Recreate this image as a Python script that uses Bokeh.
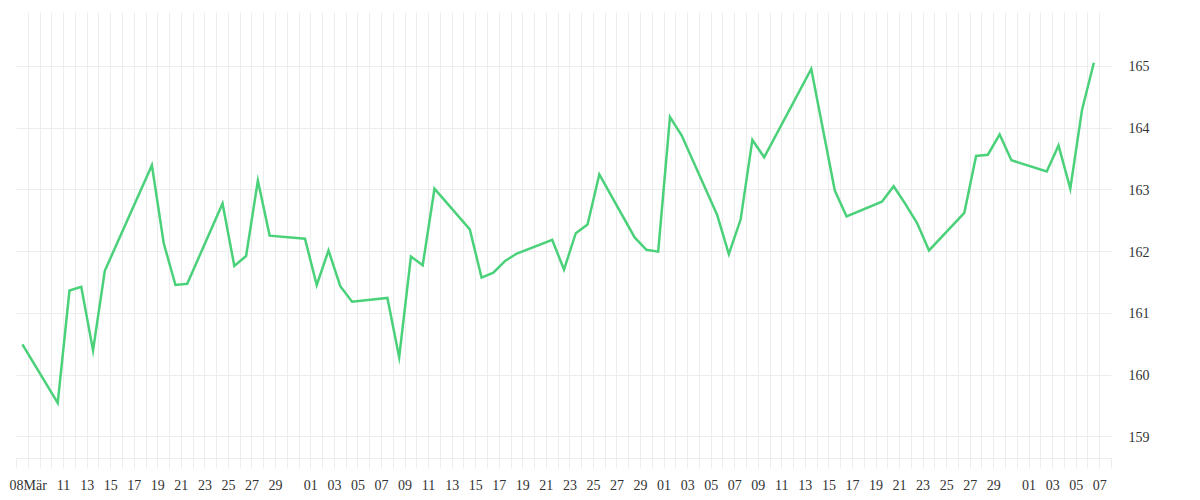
import pandas as pd
from bokeh.plotting import figure
from bokeh.models import FixedTicker, CustomJSTickFormatter, Range1d, ColumnDataSource
from bokeh.embed import file_html
from bokeh.resources import INLINE

# ---- data ----
dates = [
    "2019-03-08", "2019-03-11", "2019-03-12", "2019-03-13", "2019-03-14", "2019-03-15",
    "2019-03-19", "2019-03-20", "2019-03-21", "2019-03-22",
    "2019-03-25", "2019-03-26", "2019-03-27", "2019-03-28", "2019-03-29",
    "2019-04-01", "2019-04-02", "2019-04-03", "2019-04-04", "2019-04-05",
    "2019-04-08", "2019-04-09", "2019-04-10", "2019-04-11", "2019-04-12",
    "2019-04-15", "2019-04-16", "2019-04-17", "2019-04-18", "2019-04-19",
    "2019-04-22", "2019-04-23", "2019-04-24", "2019-04-25", "2019-04-26",
    "2019-04-29", "2019-04-30", "2019-05-01", "2019-05-02", "2019-05-03",
    "2019-05-06", "2019-05-07", "2019-05-08", "2019-05-09", "2019-05-10",
    "2019-05-14", "2019-05-16", "2019-05-17",
    "2019-05-20", "2019-05-21", "2019-05-22", "2019-05-23", "2019-05-24",
    "2019-05-27", "2019-05-28", "2019-05-29", "2019-05-30", "2019-05-31",
    "2019-06-03", "2019-06-04", "2019-06-05", "2019-06-06", "2019-06-07",
]
values = [
    160.50, 159.55, 161.37, 161.43, 160.40, 161.69,
    163.40, 162.14, 161.46, 161.48,
    162.78, 161.77, 161.93, 163.15, 162.26,
    162.21, 161.46, 162.02, 161.44, 161.19,
    161.25, 160.29, 161.92, 161.78, 163.02,
    162.36, 161.58, 161.66, 161.85, 161.97,
    162.19, 161.71, 162.30, 162.44, 163.25,
    162.23, 162.03, 162.00, 164.18, 163.88,
    162.60, 161.96, 162.52, 163.81, 163.53,
    164.96, 162.99, 162.57,
    162.81, 163.06, 162.77, 162.46, 162.02,
    162.63, 163.55, 163.57, 163.90, 163.48,
    163.30, 163.72, 163.02, 164.30, 165.06,
]

tick_dates = (
    ["2019-03-08"] + ["2019-03-%02d" % d for d in range(11, 30, 2)]
    + ["2019-04-%02d" % d for d in range(1, 30, 2)]
    + ["2019-05-%02d" % d for d in range(1, 30, 2)]
    + ["2019-06-%02d" % d for d in range(1, 8, 2)]
)
tick_labels = ["08Mär"] + [d[-2:] for d in tick_dates[1:]]

y_ticks = [159, 160, 161, 162, 163, 164, 165]

# ---- build ----
def ms(ts):
    return ts.value // 10**6

x = pd.to_datetime(dates)
src = ColumnDataSource(dict(x=x, y=values))

half_day = pd.Timedelta(hours=12)
start = pd.Timestamp(dates[0]) - half_day
end = pd.Timestamp(dates[-1]) + pd.Timedelta(days=1) + half_day
grid_ticks = [ms(t) for t in pd.date_range(start, end, freq="D")]
label_ms = [ms(pd.Timestamp(d) + half_day) for d in tick_dates]

p = figure(
    x_axis_type="datetime",
    y_axis_location="right",
    frame_width=1095, frame_height=446,
    x_range=Range1d(ms(start), ms(end)),
    y_range=Range1d(158.65, 165.874),
    output_backend="svg", toolbar_location=None,
    min_border_left=16, min_border_top=12, min_border_right=70, min_border_bottom=30,
)
p.outline_line_color = None
p.background_fill_color = "white"

p.line("x", "y", source=src, line_color="#4ad17a", line_width=2.5, line_join="miter")

grid_color = "#ededed"
xa = p.xaxis[0]
xa.ticker = FixedTicker(ticks=grid_ticks, minor_ticks=[])
xa.formatter = CustomJSTickFormatter(
    args=dict(pos=label_ms, txt=tick_labels),
    code="""
for (let i = 0; i < pos.length; i++) {
  if (Math.abs(pos[i] - tick) < 1000) return txt[i];
}
return "";
""")
xa.axis_line_color = grid_color
xa.major_tick_line_color = grid_color
xa.major_tick_out = 10
xa.major_tick_in = 0
xa.minor_tick_line_color = None
xa.major_label_standoff = 9
xa.major_label_text_font = "Liberation Serif"
xa.major_label_text_font_size = "14px"
xa.major_label_text_color = "#333333"

ya = p.yaxis[0]
ya.ticker = FixedTicker(ticks=y_ticks, minor_ticks=[])
ya.axis_line_color = None
ya.major_tick_line_color = None
ya.minor_tick_line_color = None
ya.major_tick_out = 0
ya.major_tick_in = 0
ya.major_label_standoff = 17
ya.major_label_text_font = "Liberation Serif"
ya.major_label_text_font_size = "14px"
ya.major_label_text_color = "#333333"

p.xgrid.grid_line_color = grid_color
p.ygrid.grid_line_color = grid_color
p.xgrid.grid_line_width = 1
p.ygrid.grid_line_width = 1

open("out.html", "w").write(file_html(p, INLINE))
